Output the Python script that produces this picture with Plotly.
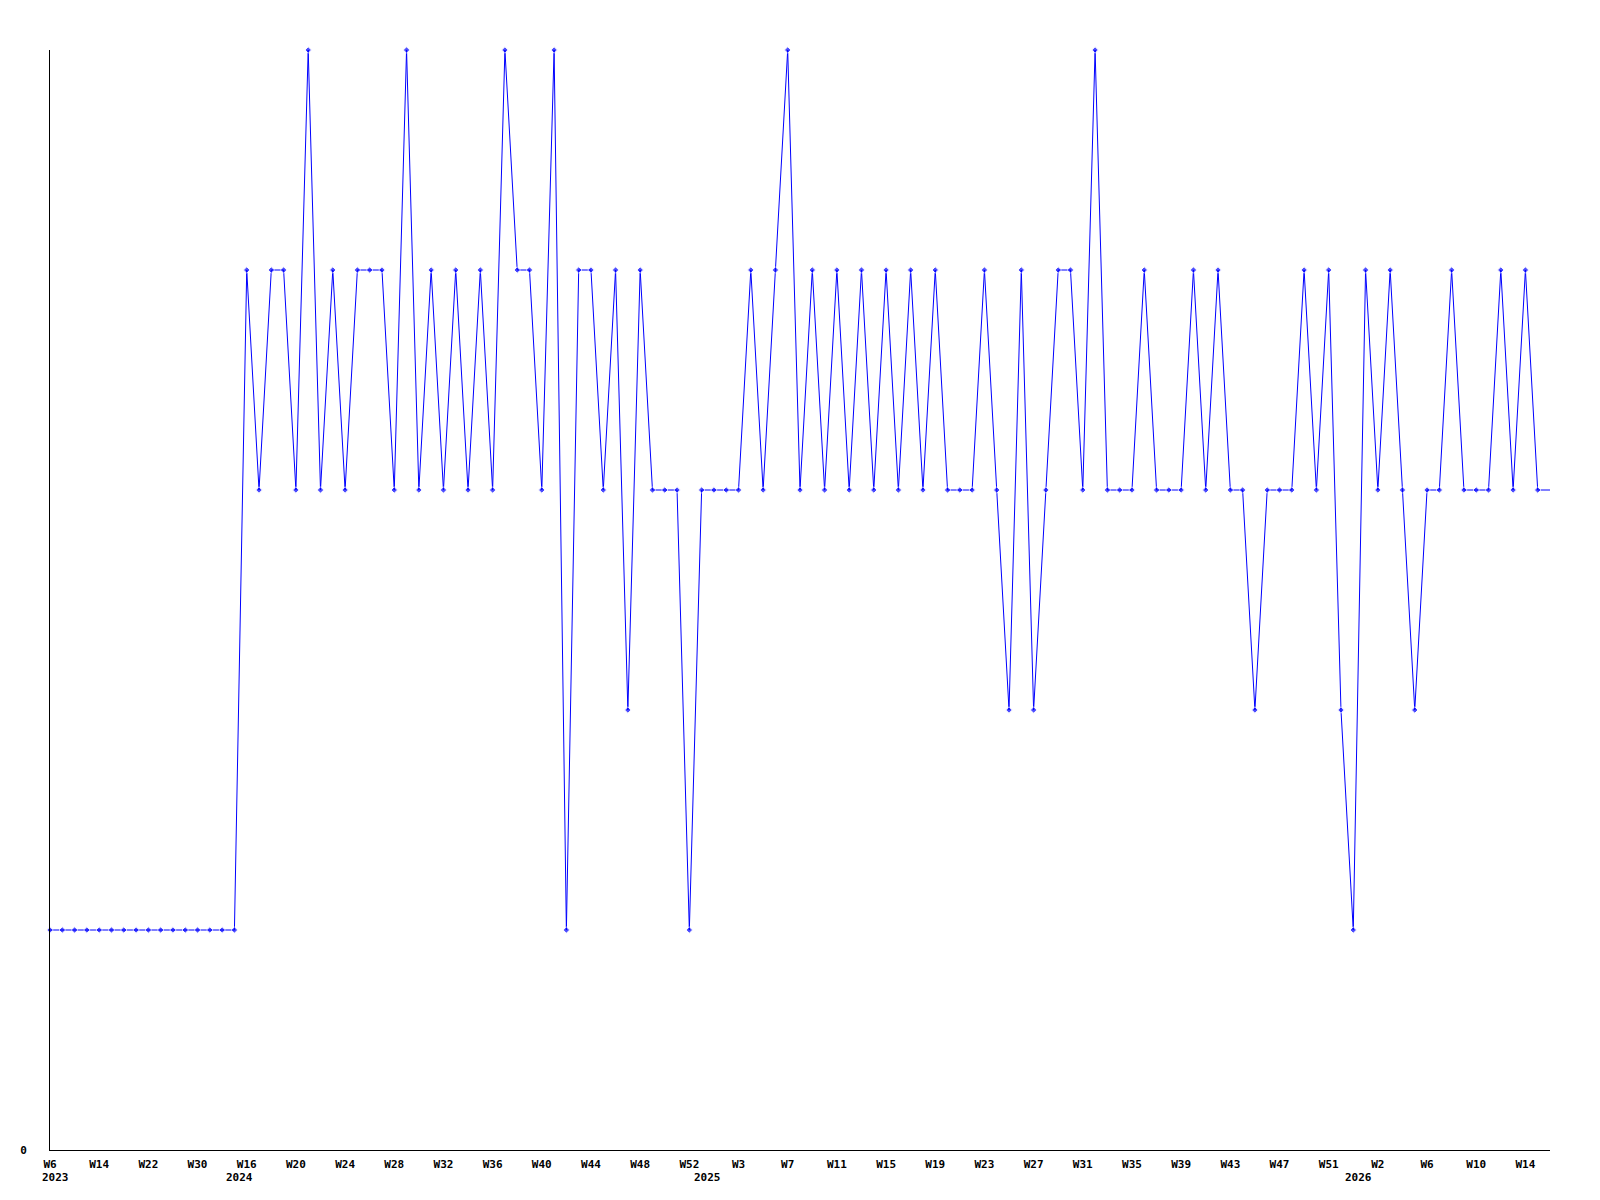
import plotly.graph_objects as go

# Weekly values, one per point (index = position along the x axis)
values = [
    1, 1, 1, 1, 1, 1, 1, 1, 1, 1, 1, 1, 1, 1, 1, 1,
    4, 3, 4, 4, 3, 5, 3, 4, 3, 4, 4, 4, 3, 5, 3,
    4, 3, 4, 3, 4, 3, 5, 4, 4, 3, 5, 1, 4, 4, 3,
    4, 2, 4, 3, 3, 3, 1, 3, 3, 3, 3, 4, 3, 4, 5, 3,
    4, 3, 4, 3, 4, 3, 4, 3, 4, 3, 4, 3, 3, 3, 4,
    3, 2, 4, 2, 3, 4, 4, 3, 5, 3, 3, 3, 4, 3, 3,
    3, 4, 3, 4, 3, 3, 2, 3, 3, 3, 4, 3, 4, 2, 1, 4,
    3, 4, 3, 2, 3, 3, 4, 3, 3, 3, 4, 3, 4, 3, 3,
]

# Week tick labels, one for every 4th point
week_tick_labels = [
    "W6", "W14", "W22", "W30",
    "W16", "W20", "W24", "W28", "W32", "W36", "W40", "W44", "W48", "W52",
    "W3", "W7", "W11", "W15", "W19", "W23", "W27", "W31", "W35", "W39",
    "W43", "W47", "W51",
    "W2", "W6", "W10", "W14",
]

# Year labels and the point index where each year starts
year_labels = ["2023", "2024", "2025", "2026"]
year_start_index = [0, 15, 53, 106]

x = list(range(len(values)))
tick_vals = x[::4][:len(week_tick_labels)]

marker_sizes = [5] * len(values)
marker_sizes[-1] = 0  # last (current) point drawn without a marker

font = dict(family="DejaVu Sans Mono", size=11, color="black", weight="bold")

fig = go.Figure()
fig.add_trace(go.Scatter(
    x=x, y=values,
    mode="lines+markers",
    line=dict(color="#0000ff", width=1),
    marker=dict(symbol="diamond", size=marker_sizes, color="#0000ff"),
    cliponaxis=False,
    hoverinfo="skip",
))

for lbl, idx in zip(year_labels, year_start_index):
    fig.add_annotation(
        x=idx, y=0, xref="x", yref="paper",
        text=lbl, showarrow=False,
        xanchor="left", yanchor="top",
        xshift=-10, yshift=-19,
        font=font,
    )

fig.update_layout(
    width=1600, height=1200,
    margin=dict(l=50, r=50, t=50, b=50),
    paper_bgcolor="white", plot_bgcolor="white",
    showlegend=False,
)
fig.update_xaxes(
    range=[0, len(values) - 1],
    tickvals=tick_vals, ticktext=week_tick_labels,
    showgrid=False, zeroline=False,
    showline=True, linecolor="black", linewidth=1,
    ticks="", tickfont=font, ticklabelstandoff=4,
)
fig.update_yaxes(
    range=[0, 5],
    tickvals=[0], ticktext=["0"],
    showgrid=False, zeroline=False,
    showline=True, linecolor="black", linewidth=1,
    ticks="", tickfont=font, ticklabelstandoff=20,
)

fig.write_html(
    "out.html",
    config={"displayModeBar": False},
    post_script="document.body.style.margin='0';",
)
